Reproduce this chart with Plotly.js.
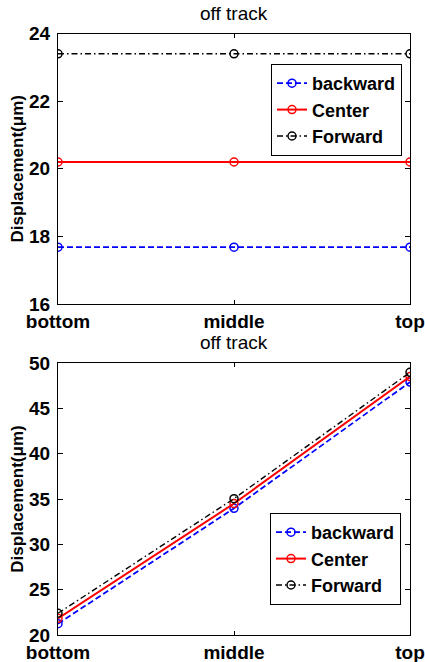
<!DOCTYPE html>
<html>
<head>
<meta charset="utf-8">
<script src="https://cdn.plot.ly/plotly-3.0.1.min.js"></script>
<style>html,body{margin:0;padding:0;background:#fff;}#chart{width:425px;height:662px;}</style>
</head>
<body>
<div id="chart"></div>
<script>
const categories = ['bottom', 'middle', 'top'];
const seriesNames = ['backward', 'Center', 'Forward'];
// Top panel values
const topBackward = [17.68, 17.68, 17.68];
const topCenter = [20.2, 20.2, 20.2];
const topForward = [23.4, 23.4, 23.4];
// Bottom panel values
const botBackward = [21.25, 33.97, 47.9];
const botCenter = [21.84, 34.5, 48.5];
const botForward = [22.4, 35.04, 48.97];
const panelTitle = 'off track';
const yTitle = 'Displacement(μm)';
const topTicks = [16, 18, 20, 22, 24];
const botTicks = [20, 25, 30, 35, 40, 45, 50];

const FONT = 'Liberation Sans, Arial, Helvetica, sans-serif';
const styles = [
  {color: '#0000ff', dash: '6px,3px', width: 1.8},
  {color: '#ff0000', dash: 'solid', width: 2},
  {color: '#000000', dash: '6px,3px,1.5px,3px', width: 1.4}
];

function mk(y, i, xa, ya, legend, show) {
  return {
    x: categories, y: y, name: seriesNames[i], type: 'scatter', mode: 'lines+markers',
    xaxis: xa, yaxis: ya, legend: legend, showlegend: show,
    line: {color: styles[i].color, dash: styles[i].dash, width: styles[i].width},
    marker: {symbol: 'circle-open', size: 8, color: styles[i].color, line: {width: 1.5, color: styles[i].color}}
  };
}

const data = [
  mk(topBackward, 0, 'x', 'y', 'legend', true),
  mk(topCenter, 1, 'x', 'y', 'legend', true),
  mk(topForward, 2, 'x', 'y', 'legend', true),
  mk(botBackward, 0, 'x2', 'y2', 'legend2', true),
  mk(botCenter, 1, 'x2', 'y2', 'legend2', true),
  mk(botForward, 2, 'x2', 'y2', 'legend2', true)
];

const tickFont = {family: FONT, size: 19, color: '#000', weight: 'bold'};
function xax(anchor, domain) {
  return {
    domain: domain, anchor: anchor, type: 'category', range: [0, 2],
    showline: true, linecolor: '#000', linewidth: 1, mirror: 'ticks',
    ticks: 'inside', ticklen: 4, tickcolor: '#000', showgrid: false, zeroline: false,
    tickfont: tickFont, fixedrange: true
  };
}
function yax(anchor, domain, range, ticks) {
  return {
    domain: domain, anchor: anchor, range: range, tickvals: ticks,
    showline: true, linecolor: '#000', linewidth: 1, mirror: 'ticks',
    ticks: 'inside', ticklen: 5, tickcolor: '#000', showgrid: false, zeroline: false,
    tickfont: tickFont, ticklabelstandoff: 3,
    title: {text: yTitle, font: {family: FONT, size: 17, color: '#000', weight: 'bold'}, standoff: 1}
  };
}

const xd = [58/425, 410/425];
const legendFont = {family: FONT, size: 18, color: '#000', weight: 'bold'};
const layout = {
  width: 425, height: 662,
  margin: {l: 0, r: 0, t: 0, b: 0},
  paper_bgcolor: '#fff', plot_bgcolor: '#fff',
  font: {family: FONT, color: '#000'},
  xaxis: xax('y', xd),
  yaxis: yax('x', [1 - 304/662, 1 - 33.5/662], [16, 24], topTicks),
  xaxis2: xax('y2', xd),
  yaxis2: yax('x2', [1 - 635/662, 1 - 363/662], [20, 50], botTicks),
  legend: {
    x: 271/425, y: 1 - 64/662, xanchor: 'left', yanchor: 'top',
    bgcolor: '#fff', bordercolor: '#000', borderwidth: 1, font: legendFont
  },
  legend2: {
    x: 270/425, y: 1 - 513/662, xanchor: 'left', yanchor: 'top',
    bgcolor: '#fff', bordercolor: '#000', borderwidth: 1, font: legendFont
  },
  annotations: [
    {text: panelTitle, xref: 'paper', yref: 'paper', x: 234/425, y: 1 - 13/662, showarrow: false,
     xanchor: 'center', yanchor: 'middle', font: {family: FONT, size: 19, color: '#000'}},
    {text: panelTitle, xref: 'paper', yref: 'paper', x: 234/425, y: 1 - 342/662, showarrow: false,
     xanchor: 'center', yanchor: 'middle', font: {family: FONT, size: 19, color: '#000'}}
  ]
};

Plotly.newPlot('chart', data, layout, {displayModeBar: false, staticPlot: true});
</script>
</body>
</html>
